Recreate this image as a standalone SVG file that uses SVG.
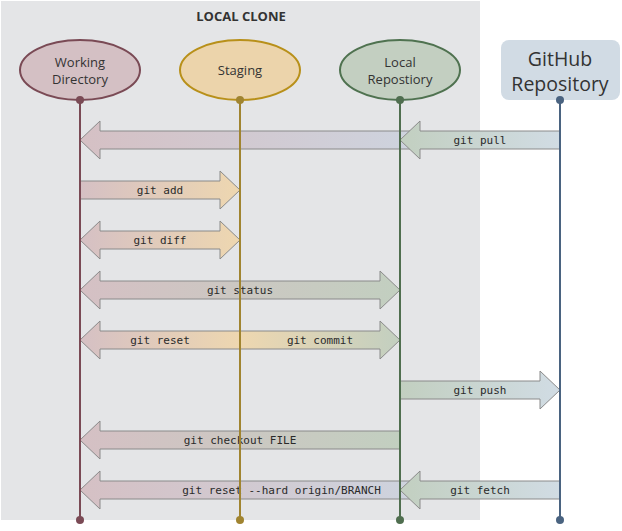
<svg xmlns="http://www.w3.org/2000/svg" width="622" height="531" viewBox="0 0 622 531">
<defs>
<linearGradient id="pkor" x1="0" y1="0" x2="1" y2="0"><stop offset="0" stop-color="#d5c0c4"/><stop offset="1" stop-color="#eed7b0"/></linearGradient>
<linearGradient id="pkgr" x1="0" y1="0" x2="1" y2="0"><stop offset="0" stop-color="#d5c0c4"/><stop offset="1" stop-color="#c2cfc0"/></linearGradient>
<linearGradient id="orgr" x1="0" y1="0" x2="1" y2="0"><stop offset="0" stop-color="#eed7b0"/><stop offset="1" stop-color="#c2cfc0"/></linearGradient>
<linearGradient id="grbl" x1="0" y1="0" x2="1" y2="0"><stop offset="0" stop-color="#c2cfc0"/><stop offset="1" stop-color="#d1dce4"/></linearGradient>
<linearGradient id="pkbl" x1="0" y1="0" x2="1" y2="0"><stop offset="0" stop-color="#d5c0c4"/><stop offset="1" stop-color="#ced3de"/></linearGradient>
</defs>
<style>
.node text{font-family:"Open Sans","DejaVu Sans",sans-serif;font-size:13px;fill:#333;text-anchor:middle}
.arr path{stroke:#8a8a8a;stroke-width:1}
.lbl{font-family:"DejaVu Sans Mono","Liberation Mono",monospace;font-size:11px;fill:#2a2a2a;text-anchor:middle}
.life{stroke-width:2;fill:none}
</style>
<rect x="1" y="1" width="479" height="519" fill="#e4e5e7"/>
<text x="241" y="21" font-family="Open Sans, DejaVu Sans, sans-serif" font-size="13" font-weight="bold" fill="#333" text-anchor="middle">LOCAL CLONE</text>

<g id="connectors">
<g class="arr">
<path d="M410,131 H100 V121 L80,140 L100,159 V149 H410 Z" fill="url(#pkbl)"/>
<path d="M560,131 H420 V121 L400,140 L420,159 V149 H560 Z" fill="url(#grbl)"/>
<path d="M80,181 H220 V171 L240,190 L220,209 V199 H80 Z" fill="url(#pkor)"/>
<path d="M100,231 H220 V221 L240,240 L220,259 V249 H100 V259 L80,240 L100,221 Z" fill="url(#pkor)"/>
<path d="M100,281 H380 V271 L400,290 L380,309 V299 H100 V309 L80,290 L100,271 Z" fill="url(#pkgr)"/>
<path d="M240,331 H100 V321 L80,340 L100,359 V349 H240 Z" fill="url(#pkor)"/>
<path d="M240,331 H380 V321 L400,340 L380,359 V349 H240 Z" fill="url(#orgr)"/>
<path d="M400,381 H540 V371 L560,390 L540,409 V399 H400 Z" fill="url(#grbl)"/>
<path d="M400,431 H100 V421 L80,440 L100,459 V449 H400 Z" fill="url(#pkgr)"/>
<path d="M410,481 H100 V471 L80,490 L100,509 V499 H410 Z" fill="url(#pkbl)"/>
<path d="M560,481 H420 V471 L400,490 L420,509 V499 H560 Z" fill="url(#grbl)"/>
</g>
<text class="lbl" x="480" y="144">git pull</text>
<text class="lbl" x="160" y="194">git add</text>
<text class="lbl" x="160" y="244">git diff</text>
<text class="lbl" x="240" y="294">git status</text>
<text class="lbl" x="160" y="344">git reset</text>
<text class="lbl" x="320" y="344">git commit</text>
<text class="lbl" x="480" y="394">git push</text>
<text class="lbl" x="240" y="444">git checkout FILE</text>
<text class="lbl" x="281.5" y="494">git reset --hard origin/BRANCH</text>
<text class="lbl" x="480" y="494">git fetch</text>
<line class="life" x1="80" y1="100" x2="80" y2="520" stroke="#7a4a55"/>
<line class="life" x1="240" y1="100" x2="240" y2="520" stroke="#a08430"/>
<line class="life" x1="400" y1="100" x2="400" y2="520" stroke="#4f6e4f"/>
<line class="life" x1="560" y1="100" x2="560" y2="520" stroke="#4a6380"/>
<circle cx="80" cy="520" r="4" fill="#7a4a55"/>
<circle cx="240" cy="520" r="4" fill="#a08430"/>
<circle cx="400" cy="520" r="4" fill="#4f6e4f"/>
<circle cx="560" cy="520" r="4" fill="#4a6380"/>
</g>

<g id="working" class="node">
<ellipse cx="80" cy="70" rx="60" ry="30" fill="#d4c0c4" stroke="#7a4a55" stroke-width="2"/>
<text x="80" y="67">Working</text>
<text x="80" y="84">Directory</text>
<circle cx="80" cy="100" r="4" fill="#7a4a55"/>
</g>
<g id="staging" class="node">
<ellipse cx="240" cy="70" rx="60" ry="30" fill="#ecd4ab" stroke="#b8901a" stroke-width="2"/>
<text x="240" y="75">Staging</text>
<circle cx="240" cy="100" r="4" fill="#a08430"/>
</g>
<g id="localrepo" class="node">
<ellipse cx="400" cy="70" rx="60" ry="30" fill="#c3cfc1" stroke="#4f7250" stroke-width="2"/>
<text x="400" y="67">Local</text>
<text x="400" y="84">Repostiory</text>
<circle cx="400" cy="100" r="4" fill="#4f6e4f"/>
</g>
<g id="github" class="node">
<rect x="501" y="40" width="119" height="60" rx="8" fill="#d1dbe4"/>
<text x="560" y="66" style="font-size:19.5px">GitHub</text>
<text x="560" y="91" style="font-size:19.5px">Repository</text>
<circle cx="560" cy="100" r="4" fill="#4a6380"/>
</g>
</svg>
